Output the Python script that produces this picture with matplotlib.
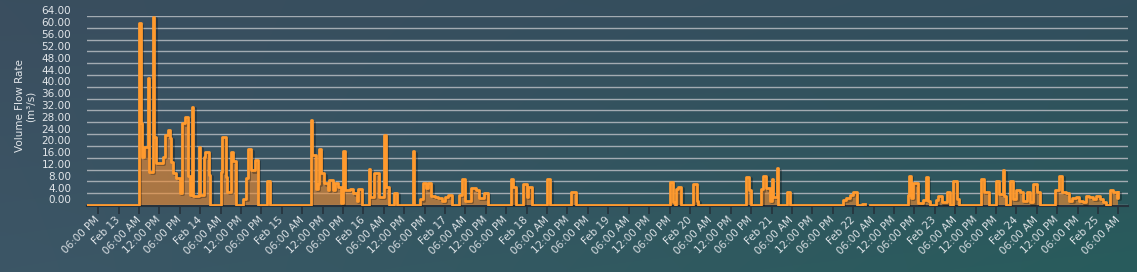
import numpy as np
import matplotlib
matplotlib.use("Agg")
import matplotlib.pyplot as plt
from matplotlib import patheffects as pe
from matplotlib.transforms import ScaledTranslation

# ---- data: change points of the step series (hours since Feb 12 00:00, m3/s)
times = [14.5, 30.0, 30.5, 31.0, 31.5, 32.5, 33.0, 34.0, 34.5, 35.0, 37.0, 37.5, 38.5, 39.0,
         39.5, 40.0, 41.0, 42.0, 42.5, 43.5, 44.5, 45.0, 45.5, 46.0, 47.5, 48.0, 49.0, 49.5,
         50.5, 51.0, 54.0, 54.5, 55.5, 56.0, 57.0, 57.5, 58.5, 60.5, 61.5, 62.0, 63.0, 64.0,
         65.0, 67.5, 68.5, 80.5, 81.0, 82.0, 82.5, 83.0, 83.5, 84.5, 85.5, 86.0, 87.0, 87.5,
         88.5, 89.5, 90.0, 90.5, 92.0, 93.0, 94.0, 94.5, 95.5, 97.5, 98.0, 99.0, 100.5, 102.0,
         102.5, 103.5, 105.0, 106.0, 110.5, 111.0, 112.5, 113.5, 114.5, 115.0, 116.0, 117.0,
         118.0, 119.0, 120.0, 121.0, 122.0, 124.0, 125.0, 126.0, 127.5, 129.0, 130.0, 131.5,
         132.5, 139.5, 140.0, 141.0, 143.0, 144.0, 144.5, 145.5, 150.0, 151.0, 157.0, 158.5,
         186.0, 187.0, 187.5, 188.0, 188.5, 189.5, 193.0, 194.0, 194.5, 208.5, 209.5, 210.0,
         213.0, 213.5, 214.5, 215.5, 216.0, 216.5, 217.5, 218.0, 220.5, 221.5, 237.0, 238.0,
         239.0, 240.0, 241.0, 242.5, 243.5, 245.0, 256.0, 256.5, 257.0, 257.5, 259.0, 260.5,
         261.5, 262.0, 262.5, 264.5, 265.0, 266.0, 267.5, 268.5, 269.5, 270.5, 271.0, 277.5,
         278.5, 280.0, 282.0, 283.0, 284.0, 284.5, 285.0, 286.0, 287.0, 288.0, 289.0, 290.0,
         291.0, 292.0, 293.0, 294.0, 295.0, 299.5, 300.5, 301.5, 302.5, 303.5, 304.5, 305.5,
         306.5, 307.5, 308.5, 309.5, 310.5, 311.5, 312.5, 313.5, 314.5, 315.5, 316.5, 317.5,
         318.0]
flow = [0, 61.5, 27.9, 16.4, 19.5, 42.9, 11.3, 63.8, 23.1, 14.3, 16.4, 23.7, 25.4, 22.7,
        14.7, 10.8, 9.1, 4.1, 27.7, 29.7, 9.8, 3.4, 33.3, 3.0, 19.7, 3.4, 16.4, 18.0,
        10.2, 0, 11.3, 23.1, 9.4, 4.5, 17.8, 15.0, 0, 2.0, 9.0, 18.9, 11.8, 15.2,
        0, 8.2, 0, 28.7, 16.9, 5.5, 7.1, 18.9, 10.7, 7.3, 5.1, 8.5, 5.1, 7.3,
        6.2, 0.5, 18.2, 5.1, 5.3, 4.0, 1.4, 5.3, 0, 12.2, 2.8, 10.9, 2.8, 23.8,
        6.2, 0, 4.2, 0, 18.2, 0, 1.9, 7.3, 5.6, 7.3, 3.0, 2.8,
        2.5, 1.4, 2.8, 3.4, 0, 3.4, 8.7, 1.4, 5.6, 5.1, 2.5, 4.2,
        0, 8.7, 6.2, 0, 7.1, 2.8, 6.2, 0, 8.7, 0, 4.5, 0,
        7.9, 1.1, 0, 5.3, 6.2, 0, 7.0, 1.5, 0, 9.6, 4.9, 0,
        5.3, 9.8, 5.6, 1.5, 8.7, 2.8, 12.4, 0, 4.5, 0, 1.8, 2.2,
        3.4, 4.3, 0, 0.4, np.nan, 0, 3.4, 9.8, 2.4, 7.3, 0.5, 1.7,
        9.4, 1.5, 0, 1.7, 3.0, 0.9, 4.5, 0, 8.1, 2.0, 0, 8.8,
        4.5, 0, 8.1, 3.7, 11.8, 3.0, 0, 8.1, 2.0, 4.9, 4.5, 1.5,
        4.5, 0.9, 7.0, 4.5, 0, 5.1, 9.8, 4.5, 4.2, 1.5, 2.4, 2.7,
        1.5, 0.9, 3.0, 2.7, 2.0, 3.0, 2.0, 0.9, 0, 4.9, 4.5, 2.4,
        4.5]

y_ticks = list(range(0, 65, 4))
x_tick_hours = list(range(18, 319, 6))
x_tick_labels = ["06:00 PM",
                 "Feb 13", "06:00 AM", "12:00 PM", "06:00 PM",
                 "Feb 14", "06:00 AM", "12:00 PM", "06:00 PM",
                 "Feb 15", "06:00 AM", "12:00 PM", "06:00 PM",
                 "Feb 16", "06:00 AM", "12:00 PM", "06:00 PM",
                 "Feb 17", "06:00 AM", "12:00 PM", "06:00 PM",
                 "Feb 18", "06:00 AM", "12:00 PM", "06:00 PM",
                 "Feb 19", "06:00 AM", "12:00 PM", "06:00 PM",
                 "Feb 20", "06:00 AM", "12:00 PM", "06:00 PM",
                 "Feb 21", "06:00 AM", "12:00 PM", "06:00 PM",
                 "Feb 22", "06:00 AM", "12:00 PM", "06:00 PM",
                 "Feb 23", "06:00 AM", "12:00 PM", "06:00 PM",
                 "Feb 24", "06:00 AM", "12:00 PM", "06:00 PM",
                 "Feb 25", "06:00 AM"]
y_title = "Volume Flow Rate\n(m³/s)"

# ---- figure
W, H = 1137, 272
fig = plt.figure(figsize=(W / 100, H / 100), dpi=100)

# background gradient
bg = fig.add_axes([0, 0, 1, 1], zorder=-10)
tl = np.array([58, 78, 95]) / 255
tr = np.array([50, 78, 93]) / 255
bl = np.array([60, 86, 102]) / 255
br = np.array([40, 92, 92]) / 255
u = np.linspace(0, 1, 200)[None, :, None]
w = np.linspace(0, 1, 60)[:, None, None]
grad = (1 - w) * ((1 - u) * tl + u * tr) + w * ((1 - u) * bl + u * br)
bg.imshow(grad, extent=[0, 1, 0, 1], aspect="auto", interpolation="bicubic")
bg.axis("off")

ax = fig.add_axes([87 / W, (H - 206) / H, (1128 - 87) / W, (206 - 16) / H])
ax.patch.set_alpha(0)

t = np.array(times, dtype=float)
v = np.array(flow, dtype=float)
orange = "#ff9a2e"
ax.fill_between(t, v, 0, step="post", color="#f08c32", alpha=0.62, lw=0, zorder=2)
ax.step(t, v, where="post", color=orange, lw=2.0, zorder=3,
        path_effects=[pe.SimpleLineShadow(offset=(1, -1), shadow_color="black", alpha=0.3),
                      pe.Normal()])

ax.set_xlim(14.68, 320.85)
ax.set_ylim(-0.35, 64)

ax.set_yticks(y_ticks)
ax.set_yticklabels([f"{y:.2f}" for y in y_ticks])
ax.grid(axis="y", color="#a3abb2", lw=1.0, zorder=1)
ax.tick_params(axis="y", length=0, pad=11.5, labelsize=7.5, labelcolor="#e2e6ea")
for lab in ax.get_yticklabels():
    lab.set_transform(lab.get_transform() + ScaledTranslation(0, 5.5 / 100, fig.dpi_scale_trans))

ax.set_xticks(x_tick_hours)
ax.set_xticklabels(x_tick_labels)
ax.tick_params(axis="x", length=5.8, width=1.2, color="#26323c", pad=3,
               labelsize=7.5, labelcolor="#dce1e5")
for lab in ax.get_xticklabels():
    lab.set_rotation(45)
    lab.set_ha("right")
    lab.set_va("center")
    lab.set_rotation_mode("anchor")

for s in ["top", "right", "left"]:
    ax.spines[s].set_visible(False)
ax.spines["bottom"].set_color("#26323c")
ax.spines["bottom"].set_linewidth(1.5)

fig.text(25 / W, 1 - 106 / H, y_title, rotation=90, ha="center", va="center",
         fontsize=7.5, color="#e2e6ea", multialignment="center", linespacing=1.1)

fig.savefig("out.png", dpi=100)
